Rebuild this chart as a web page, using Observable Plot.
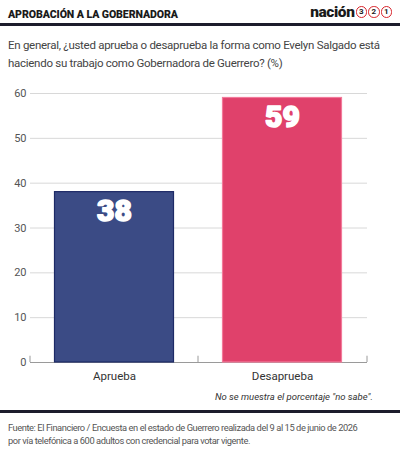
<!DOCTYPE html>
<html><head><meta charset="utf-8">
<script src="https://cdn.jsdelivr.net/npm/d3@7"></script>
<script src="https://cdn.jsdelivr.net/npm/@observablehq/plot@0.6"></script>
<style>
html,body{margin:0;padding:0;background:#fff;width:400px;height:449px;overflow:hidden;font-family:Roboto,"Open Sans",sans-serif;}
#wrap{position:relative;width:400px;height:449px;}
.title{position:absolute;left:8px;top:8px;font-family:Roboto,sans-serif;font-weight:900;font-size:10.6px;color:#1a1a1a;letter-spacing:-0.1px;white-space:nowrap;}
.logo{position:absolute;right:8px;top:3px;font-family:Roboto,sans-serif;font-weight:900;font-size:15.5px;color:#1a1a1a;letter-spacing:-0.4px;display:flex;align-items:center;white-space:nowrap;}
.logo .c{display:inline-block;width:9.5px;height:9.5px;border:1.6px solid #d8232a;border-radius:50%;font-size:8px;line-height:9.5px;text-align:center;margin-left:1px;font-weight:700;color:#222;letter-spacing:0;}
.rule{position:absolute;left:0;width:400px;height:3px;background:#1c1c2c;}
.sub{position:absolute;left:8px;top:36px;font-family:Roboto,sans-serif;font-size:11.5px;line-height:18px;color:#444;letter-spacing:-0.28px;white-space:nowrap;}
#chart{position:absolute;left:0;top:80px;}
.note{position:absolute;right:27px;top:391px;font-family:Roboto,sans-serif;font-style:italic;font-size:9.5px;color:#333;white-space:nowrap;}
.foot{position:absolute;left:8px;top:421px;font-family:Roboto,sans-serif;font-size:9.3px;line-height:13px;color:#555;letter-spacing:-0.43px;white-space:nowrap;}
</style></head>
<body><div id="wrap">
<div class="title">APROBACIÓN A LA GOBERNADORA</div>
<div class="logo">nación<span class="c">3</span><span class="c">2</span><span class="c">1</span></div>
<div class="rule" style="top:23px"></div>
<div class="sub">En general, ¿usted aprueba o desaprueba la forma como Evelyn Salgado está<br>haciendo su trabajo como Gobernadora de Guerrero? (%)</div>
<div id="chart"></div>
<div class="note">No se muestra el porcentaje "no sabe".</div>
<div class="rule" style="top:410px"></div>
<div class="foot">Fuente: El Financiero / Encuesta en el estado de Guerrero realizada del 9 al 15 de junio de 2026<br>por vía telefónica a 600 adultos con credencial para votar vigente.</div>
</div>
<script>
const categories = ["Aprueba", "Desaprueba"];
const values = [38, 59];
const fills = ["#3b4b85", "#e0416b"];
const strokes = ["#1d2a66", "#f27a9a"];
const yTicks = [0, 10, 20, 30, 40, 50, 60];

const data = categories.map((c, i) => ({cat: c, value: values[i], fill: fills[i], stroke: strokes[i]}));
const step = 169;

const plot = Plot.plot({
  width: 400,
  height: 310,
  marginTop: 13,
  marginBottom: 28,
  marginLeft: 30,
  marginRight: 33,
  style: {fontFamily: "Roboto, sans-serif", fontSize: "11px", color: "#444", background: "transparent"},
  x: {domain: categories, paddingInner: 0.284, paddingOuter: 0.142, label: null},
  y: {domain: [0, 60], ticks: yTicks, label: null},
  marks: [
    Plot.gridY(yTicks.filter(d => d > 0), {stroke: "#d8d8d8", strokeOpacity: 1, strokeWidth: 1}),
    Plot.axisY(yTicks, {tickSize: 0, tickPadding: 4, fill: "#555", fontSize: 11}),
    Plot.axisX({tickSize: 0, tickPadding: 9, fill: "#333", fontSize: 11.5}),
    Plot.ruleY([0], {stroke: "#9a9a9a"}),
    Plot.ruleX(data, {x: "cat", y1: 0, y2: 1.4, dx: -step / 2, stroke: "#9a9a9a"}),
    Plot.ruleX(data.slice(-1), {x: "cat", y1: 0, y2: 1.4, dx: step / 2, stroke: "#9a9a9a"}),
    Plot.barY(data, {x: "cat", y: "value", fill: "fill", stroke: "stroke", strokeWidth: 1.2, insetLeft: 0.5, insetRight: 0.5}),
    Plot.text(data, {x: "cat", y: "value", text: d => String(d.value), lineAnchor: "top", dy: 8, fill: "white", stroke: "white", strokeWidth: 1.6, fontSize: 30, fontWeight: 900, fontFamily: "Roboto, sans-serif"})
  ]
});
document.getElementById("chart").appendChild(plot);
</script>
</body></html>
